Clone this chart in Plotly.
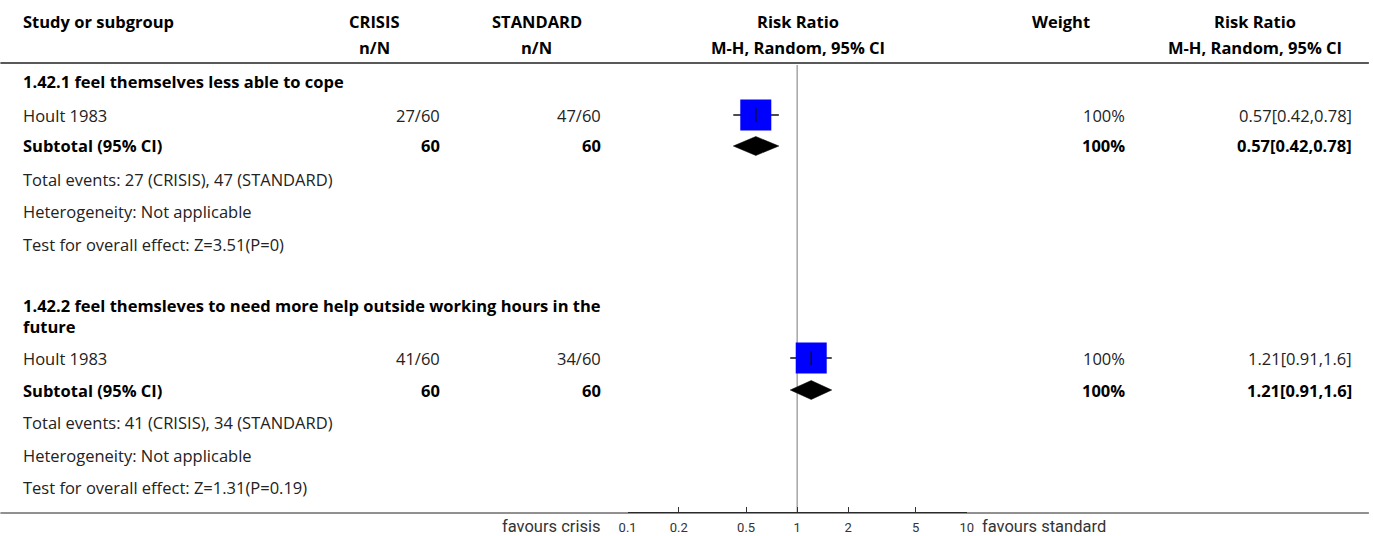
import plotly.graph_objects as go

# ---------------- data ----------------
subgroups = [
    "1.42.1 feel themselves less able to cope",
    "1.42.2 feel themsleves to need more help outside working hours in the<br>future",
]
studies = ["Hoult 1983", "Hoult 1983"]
crisis_events = [27, 41]
crisis_total = [60, 60]
standard_events = [47, 34]
standard_total = [60, 60]
rr = [0.57, 1.21]
rr_lo = [0.42, 0.91]
rr_hi = [0.78, 1.6]
weights = ["100%", "100%"]
heterogeneity = ["Not applicable", "Not applicable"]
z_values = ["3.51", "1.31"]
p_values = ["0", "0.19"]
tick_vals = [0.1, 0.2, 0.5, 1, 2, 5, 10]
tick_text = ["0.1", "0.2", "0.5", "1", "2", "5", "10"]

# ---------------- layout constants (pixels) ----------------
W, H = 1373, 536
AXIS_Y = 512
FONT = "Open Sans"
NARROW = "Roboto"
TXT = "#222222"
FS = 16.5
COL_STUDY = 22
COL_CRISIS_HDR, COL_CRISIS = 374, 440
COL_STD_HDR, COL_STD = 536, 601
COL_RR_HDR = 797
COL_W_HDR, COL_W = 1060, 1125
COL_RR2_HDR, COL_RR2 = 1254, 1352
# horizontal calibration of the rendered page
XS, XO = 0.988, 8.6

# row pixel centres for each subgroup block
blocks = [
    dict(head=81, study=115, sub=146, te=180, het=212, test=244),
    dict(head=315.5, study=358, sub=390, te=422, het=455, test=487),
]


def px(x):
    return ((x - XO) / XS) / W


def py(y):
    return 1 - y / H


fig = go.Figure()
ann = []


def text(x, y, s, anchor="left", bold=False, size=FS, font=FONT, color=TXT):
    if bold:
        s = "<b>" + s + "</b>"
    ann.append(dict(x=px(x), y=py(y), xref="paper", yref="paper", text=s,
                    showarrow=False, xanchor=anchor, yanchor="middle",
                    align="left", borderpad=0,
                    font=dict(family=font, size=size, color=color if not bold else "#000")))


# header
text(COL_STUDY, 22, "Study or subgroup", bold=True)
text(COL_CRISIS_HDR, 22, "CRISIS", "center", True)
text(COL_CRISIS_HDR, 47, "n/N", "center", True)
text(COL_STD_HDR, 22, "STANDARD", "center", True)
text(COL_STD_HDR, 47, "n/N", "center", True)
text(COL_RR_HDR, 22, "Risk Ratio", "center", True)
text(COL_RR_HDR, 47, "M-H, Random, 95% CI", "center", True)
text(COL_W_HDR, 22, "Weight", "center", True)
text(COL_RR2_HDR, 22, "Risk Ratio", "center", True)
text(COL_RR2_HDR, 47, "M-H, Random, 95% CI", "center", True)

for i, b in enumerate(blocks):
    text(COL_STUDY, b["head"], subgroups[i], bold=True)
    text(COL_STUDY, b["study"], studies[i])
    text(COL_CRISIS, b["study"], f"{crisis_events[i]}/{crisis_total[i]}", "right")
    text(COL_STD, b["study"], f"{standard_events[i]}/{standard_total[i]}", "right")
    text(COL_W, b["study"], weights[i], "right")
    text(COL_RR2, b["study"], f"{rr[i]}[{rr_lo[i]},{rr_hi[i]}]", "right")
    text(COL_STUDY, b["sub"], "Subtotal (95% CI)", bold=True)
    text(COL_CRISIS, b["sub"], str(crisis_total[i]), "right", True)
    text(COL_STD, b["sub"], str(standard_total[i]), "right", True)
    text(COL_W, b["sub"], weights[i], "right", True)
    text(COL_RR2, b["sub"], f"{rr[i]}[{rr_lo[i]},{rr_hi[i]}]", "right", True)
    text(COL_STUDY, b["te"],
         f"Total events: {crisis_events[i]} (CRISIS), {standard_events[i]} (STANDARD)")
    text(COL_STUDY, b["het"], f"Heterogeneity: {heterogeneity[i]}")
    text(COL_STUDY, b["test"], f"Test for overall effect: Z={z_values[i]}(P={p_values[i]})")

    # study square with CI
    fig.add_trace(go.Scatter(
        x=[rr[i]], y=[b["study"]], mode="markers",
        marker=dict(symbol="square", size=31, color="#0000ff", line=dict(width=0)),
        error_x=dict(type="data", symmetric=False,
                     array=[rr_hi[i] - rr[i]], arrayminus=[rr[i] - rr_lo[i]],
                     color="#111", thickness=1.5, width=0),
        hoverinfo="skip", showlegend=False))
    fig.add_trace(go.Scatter(
        x=[rr[i]], y=[b["study"]], mode="markers",
        marker=dict(symbol="line-ns", size=10, line=dict(width=1.5, color="#111")),
        hoverinfo="skip", showlegend=False))
    # subtotal diamond
    hh = 9.5
    fig.add_trace(go.Scatter(
        x=[rr_lo[i], rr[i], rr_hi[i], rr[i], rr_lo[i]],
        y=[b["sub"], b["sub"] - hh, b["sub"], b["sub"] + hh, b["sub"]],
        mode="lines", fill="toself", fillcolor="#000",
        line=dict(color="#000", width=0.5),
        hoverinfo="skip", showlegend=False))

text(600, 526, "favours crisis", "right", size=16.5, font=NARROW, color="#333")
text(980, 526, "favours standard", "left", size=16.5, font=NARROW, color="#333")

shapes = [
    dict(type="line", xref="paper", yref="paper", x0=px(0), x1=px(1368),
         y0=py(63), y1=py(63), line=dict(color="#222", width=1.5)),
    dict(type="line", xref="paper", yref="paper", x0=px(0), x1=px(1368),
         y0=py(AXIS_Y + 1), y1=py(AXIS_Y + 1), line=dict(color="#222", width=1)),
    dict(type="line", xref="x", yref="paper", x0=1, x1=1,
         y0=py(65), y1=py(AXIS_Y), line=dict(color="#a6a6a6", width=1.5), layer="below"),
]

fig.update_layout(
    width=W, height=H,
    margin=dict(l=0, r=0, t=0, b=0),
    paper_bgcolor="white", plot_bgcolor="white",
    annotations=ann, shapes=shapes,
    xaxis=dict(type="log", range=[-1, 1], domain=[px(627), px(966)],
               tickvals=tick_vals, ticktext=tick_text,
               ticks="inside", ticklen=5, tickcolor="#333", tickwidth=1,
               showline=True, linecolor="#333", linewidth=1,
               showgrid=False, zeroline=False, ticklabelstandoff=3,
               tickfont=dict(family=NARROW, size=13, color="#333")),
    yaxis=dict(range=[AXIS_Y, 0], domain=[1 - AXIS_Y / H, 1],
               visible=False, showgrid=False, zeroline=False),
)

fig.write_html(
    "out.html",
    config={"displayModeBar": False},
    post_script=("document.body.style.margin='0';"
                 "document.body.style.overflow='hidden';"
                 "document.documentElement.style.overflow='hidden';"),
)
